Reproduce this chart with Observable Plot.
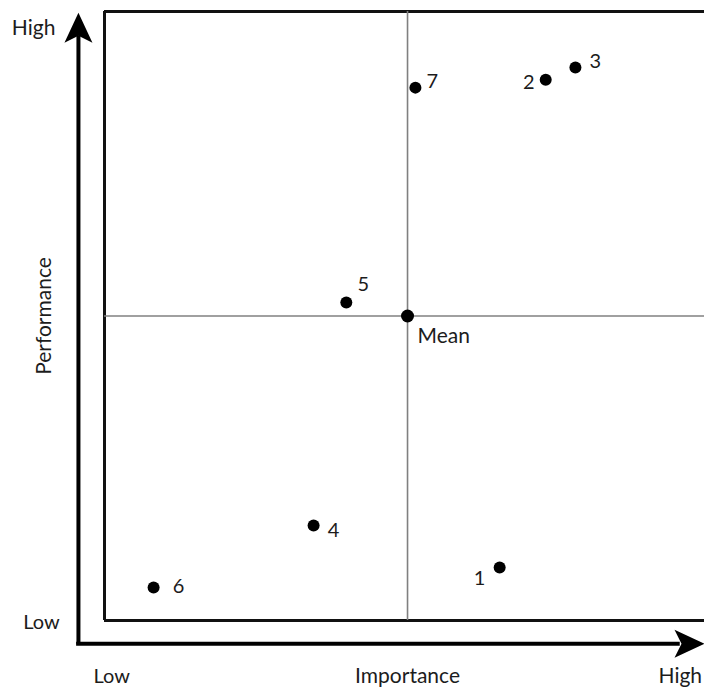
<!DOCTYPE html>
<html>
<head>
<meta charset="utf-8">
<script src="https://cdn.jsdelivr.net/npm/d3@7"></script>
<script src="https://cdn.jsdelivr.net/npm/@observablehq/plot@0.6"></script>
<style>
  html, body { margin: 0; padding: 0; background: #fff; overflow: hidden; }
</style>
</head>
<body>
<div id="chart"></div>
<script>
// ---- data ----
const pointLabels = ["1", "2", "3", "4", "5", "6", "7"];
const importance  = [6.52, 7.28, 7.77, 3.45, 3.99, 0.81, 5.13];
const performance = [0.87, 8.88, 9.08, 1.56, 5.22, 0.54, 8.75];
const meanLabel = "Mean";
const meanImportance = 5;
const meanPerformance = 5;
const xAxisTitle = "Importance";
const yAxisTitle = "Performance";
const lowLabel = "Low";
const highLabel = "High";

// ---- layout (scale space) ----
const font = "Lato, 'Open Sans', sans-serif";
const ink = "#1c1c1c";
const labelOffsets = {
  "1": [-20, 11], "2": [-17, 3], "3": [20, -6], "4": [20, 5],
  "5": [17, -18], "6": [25, -1], "7": [17, -6]
};
const axisX = -0.43, axisY = -0.38;

// arrow-head symbol, tip at origin pointing up
const arrowHead = {
  draw(context) {
    context.moveTo(0, 0);
    context.lineTo(14, 30);
    context.lineTo(0, 23);
    context.lineTo(-14, 30);
    context.closePath();
  }
};

const pts = pointLabels.map((l, i) => ({label: l, x: importance[i], y: performance[i]}));

const marks = [
  // quadrant box
  Plot.ruleY([0, 10], {x1: 0, x2: 10, stroke: "#111", strokeWidth: 3}),
  Plot.ruleX([0], {y1: 0, y2: 10, stroke: "#111", strokeWidth: 3}),
  // mean lines
  Plot.ruleX([meanImportance], {y1: 0, y2: 10, stroke: "#808080", strokeWidth: 1.6}),
  Plot.ruleY([meanPerformance], {x1: 0, x2: 10, stroke: "#808080", strokeWidth: 1.6}),
  // axis arrows
  Plot.ruleX([axisX], {y1: axisY - 0.02, y2: 9.6, stroke: "#000", strokeWidth: 4}),
  Plot.ruleY([axisY], {x1: axisX - 0.03, x2: 9.5, stroke: "#000", strokeWidth: 4}),
  Plot.dot([0], {x: axisX, y: 9.98, symbol: arrowHead, fill: "#000", stroke: "none"}),
  Plot.dot([0], {x: 9.9, y: axisY, symbol: arrowHead, rotate: 90, fill: "#000", stroke: "none"}),
  // points
  Plot.dot(pts, {x: "x", y: "y", r: 6, fill: "#000", stroke: "none"}),
  Plot.dot([0], {x: meanImportance, y: meanPerformance, r: 6.5, fill: "#000", stroke: "none"}),
  // point labels
  ...pts.map(p => Plot.text([p], {
    x: "x", y: "y", text: "label",
    dx: labelOffsets[p.label][0], dy: labelOffsets[p.label][1],
    fontSize: 20, fontFamily: font, fill: ink
  })),
  Plot.text([meanLabel], {x: meanImportance, y: meanPerformance, text: d => d,
    dx: 10, dy: 20, textAnchor: "start", fontSize: 21, fontFamily: font, fill: ink}),
  // axis texts
  Plot.text([highLabel], {x: -1.17, y: 9.72, text: d => d, fontSize: 21, fontFamily: font, fill: ink}),
  Plot.text([lowLabel], {x: -1.04, y: -0.03, text: d => d, fontSize: 20, fontFamily: font, fill: ink}),
  Plot.text([lowLabel], {x: 0.12, y: -0.92, text: d => d, fontSize: 20, fontFamily: font, fill: ink}),
  Plot.text([xAxisTitle], {x: 5, y: -0.92, text: d => d, fontSize: 21, fontFamily: font, fill: ink}),
  Plot.text([highLabel], {x: 9.86, y: -0.92, text: d => d, textAnchor: "end", fontSize: 21, fontFamily: font, fill: ink}),
  Plot.text([yAxisTitle], {x: -0.99, y: 5, text: d => d, rotate: -90, fontSize: 21, fontFamily: font, fill: ink})
];

const chart = Plot.plot({
  width: 704,
  height: 689,
  marginLeft: 104,
  marginRight: 0,
  marginTop: 11,
  marginBottom: 69,
  x: {domain: [0, 9.9], axis: null},
  y: {domain: [0, 10], axis: null},
  style: {background: "#fff", overflow: "visible"},
  marks
});
document.getElementById("chart").appendChild(chart);
</script>
</body>
</html>
